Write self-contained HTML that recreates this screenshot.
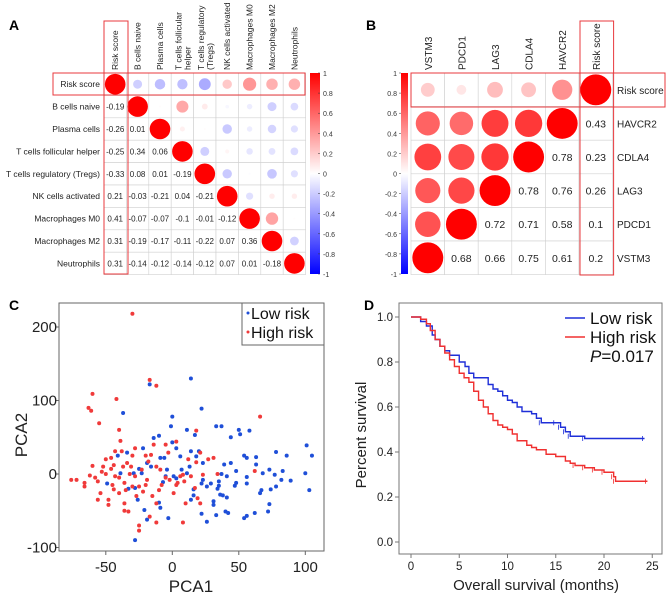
<!DOCTYPE html>
<html><head><meta charset="utf-8"><style>
html,body{margin:0;padding:0;background:#fff}
svg{display:block;font-family:"Liberation Sans",Arial,sans-serif}
</style></head><body>
<svg id="fig" width="672" height="606" viewBox="0 0 672 606">
<defs>
<linearGradient id="cbar" x1="0" y1="1" x2="0" y2="0">
<stop offset="0" stop-color="#0000ff"/><stop offset="0.5" stop-color="#ffffff"/><stop offset="1" stop-color="#ff0000"/>
</linearGradient>
</defs>
<g id="pA"></g>
<g id="pB"></g>
<g id="pC"></g>
<g id="pD"></g>
</svg>
<script>
// ---------- Panel A data ----------
const aLabels = ["Risk score","B cells naive","Plasma cells","T cells follicular helper","T cells regulatory (Tregs)","NK cells activated","Macrophages M0","Macrophages M2","Neutrophils"];
const aColLabels = [["Risk score"],["B cells naive"],["Plasma cells"],["T cells follicular","helper"],["T cells regulatory","(Tregs)"],["NK cells activated"],["Macrophages M0"],["Macrophages M2"],["Neutrophils"]];
const aLower = [
 [],
 [-0.19],
 [-0.26,0.01],
 [-0.25,0.34,0.06],
 [-0.33,0.08,0.01,-0.19],
 [0.21,-0.03,-0.21,0.04,-0.21],
 [0.41,-0.07,-0.07,-0.1,-0.01,-0.12],
 [0.31,-0.19,-0.17,-0.11,-0.22,0.07,0.36],
 [0.31,-0.14,-0.12,-0.14,-0.12,0.07,0.01,-0.18]
];
const cbTicks = [1,0.8,0.6,0.4,0.2,0,-0.2,-0.4,-0.6,-0.8,-1];
// ---------- Panel B data ----------
const bRows = ["Risk score","HAVCR2","CDLA4","LAG3","PDCD1","VSTM3"];
const bCols = ["VSTM3","PDCD1","LAG3","CDLA4","HAVCR2","Risk score"];
const bVars = ["Risk score","HAVCR2","CDLA4","LAG3","PDCD1","VSTM3"];
const bCorr = [
 [1,0.43,0.23,0.26,0.1,0.2],
 [0.43,1,0.78,0.76,0.58,0.61],
 [0.23,0.78,1,0.78,0.71,0.75],
 [0.26,0.76,0.78,1,0.72,0.66],
 [0.1,0.58,0.71,0.72,1,0.68],
 [0.2,0.61,0.75,0.66,0.68,1]
];
// ---------- Panel C data ----------
const cXTicks=[-50,0,50,100];
const cYTicks=[-100,0,100,200];
const highRisk=[[-30,218],[-60,109],[-63,90],[-61,86],[-42,102],[-55,69],[-40,60],[-17,128],[-12,120],[66,78],[3,44],[18,59],[-76,-8],[-72,-8],[-66,-12],[-66,-17],[-60,11],[-56,-10],[-56,-35],[-54,-26],[-48,-35],[-48,-42],[-52,10],[-50,20],[-46,22],[-46,7],[-43,-3],[-44,-21],[-40,-26],[-38,31],[-37,10],[-34,15],[-36,-12],[-36,-40],[-36,-50],[-33,-51],[-30,-17],[-28,-3],[-28,35],[-25,-17],[-25,-70],[-25,-77],[-23,6],[-22,-24],[-19,-8],[-18,17],[-17,-58],[-16,26],[-14,40],[-12,-66],[-12,-40],[-9,6],[-8,-15],[-5,40],[-3,29],[-2,-8],[1,-26],[3,-15],[6,-3],[8,-1],[9,-10],[8,-66],[10,-40],[12,20],[14,-3],[17,-19],[18,16],[21,29],[19,-33],[21,-40],[23,-1],[27,20],[31,22],[34,0],[62,4],[-43,31],[-39,45],[-31,10],[-58,-5],[-50,0],[-44,12],[-40,-5],[-35,-22],[-32,0],[-27,-30],[-20,-15],[-15,-30],[-10,-22],[-5,-5],[4,-12],[-45,-15],[-53,3],[-30,25],[-20,25],[-12,10],[-62,-2]];
const lowRisk=[[14,130],[-17,122],[-37,83],[0,78],[22,89],[-1,65],[11,60],[33,65],[37,65],[50,60],[58,59],[44,50],[51,54],[17,53],[-14,49],[-10,52],[0,43],[3,35],[-41,25],[-34,29],[-22,35],[14,31],[20,31],[18,24],[-9,22],[6,24],[23,15],[39,13],[44,15],[54,25],[56,22],[63,23],[78,30],[86,25],[101,39],[105,25],[63,13],[73,6],[83,4],[100,1],[103,-22],[89,-9],[82,-8],[78,-17],[74,-21],[77,-1],[68,1],[66,-26],[67,-22],[73,-41],[72,-51],[62,-53],[56,-57],[54,-60],[56,-4],[56,-13],[48,-12],[47,-16],[48,4],[41,-3],[37,0],[35,-10],[35,-16],[34,-20],[36,-28],[38,-29],[41,-32],[31,-37],[31,-42],[33,-56],[40,-51],[42,-53],[26,-65],[22,-54],[26,-17],[29,-13],[22,-13],[23,-8],[16,-21],[14,-35],[16,-29],[11,1],[13,10],[7,6],[1,-3],[3,-6],[-4,6],[-5,-3],[-7,-11],[-3,-60],[-10,-39],[-9,-46],[-16,10],[-19,15],[-23,1],[-25,7],[-29,1],[-28,-19],[-21,-49],[-19,-62],[-26,-35],[-39,1],[-49,-13],[-28,-90],[-33,-20],[-6,22]];
// ---------- Panel D data ----------
const dXTicks=[0,5,10,15,20,25];
const dYTicks=[0,0.2,0.4,0.6,0.8,1.0];
const lowT=[0,1,1.6,2.2,2.5,3,3.5,4,5,5.6,6,6.5,7,8,8.5,9,9.5,10,10.5,11,11.5,12,12.5,13,13.5,15,15.5,16,16.5,18,24.2];
const lowS=[1,0.98,0.96,0.92,0.9,0.87,0.85,0.83,0.8,0.78,0.75,0.73,0.73,0.7,0.68,0.67,0.65,0.63,0.62,0.6,0.58,0.58,0.57,0.55,0.53,0.53,0.51,0.49,0.47,0.46,0.46];
const highT=[0,1,1.6,2,2.5,3,3.5,4,4.5,5,5.5,6,6.5,7,7.5,8,8.5,9,9.5,10,10.5,11,12,12.5,13,14,15,16,16.5,17,18,19,20,21,21.2,24.5];
const highS=[1,0.99,0.97,0.94,0.9,0.87,0.84,0.81,0.78,0.75,0.73,0.71,0.67,0.63,0.6,0.57,0.54,0.52,0.51,0.5,0.48,0.45,0.43,0.42,0.41,0.39,0.38,0.36,0.35,0.34,0.33,0.32,0.31,0.29,0.27,0.27];

const NS="http://www.w3.org/2000/svg";
function mk(parent,tag,attrs,text){const e=document.createElementNS(NS,tag);for(const k in attrs)e.setAttribute(k,attrs[k]);if(text!==undefined)e.textContent=text;parent.appendChild(e);return e;}
function corrColor(r){const t=Math.min(1,Math.abs(r));if(r>=0){const v=Math.round(255*(1-t));return `rgb(255,${v},${v})`;}const v=Math.round(255*(1-t));return `rgb(${v},${v},255)`;}
function fmt(v){return String(v).replace(/^0\./,'0.').replace(/^-0\./,'-0.');}

// ===== Panel A =====
(function(){
 const g=document.getElementById('pA');
 const x0=104,y0=73,cs=22.4,n=aLabels.length;
 const t=mk(g,'text',{x:9,y:30,'font-size':14,'font-weight':'bold'},'A');
 
 const aVal=(i,j)=> i===j?1:(i>j?aLower[i][j]:aLower[j][i]);
 for(let i=0;i<n;i++){
  for(let j=0;j<n;j++){
   const cx=x0+j*cs,cy=y0+i*cs;
   const cell=mk(g,'rect',{x:cx,y:cy,width:cs,height:cs,fill:'#fff',stroke:'#d0d0d0','stroke-width':0.6});
   
   const v=aVal(i,j);
   if(j>=i){
    const c=mk(g,'circle',{cx:cx+cs/2,cy:cy+cs/2,r:(cs*0.46)*Math.sqrt(Math.abs(v)),fill:corrColor(v)});
    
   } else {
    const tx=mk(g,'text',{x:cx+cs/2,y:cy+cs/2+3,'font-size':8,'text-anchor':'middle',fill:'#222'},fmt(v));
    
   }
  }
  const rl=mk(g,'text',{x:100,y:y0+i*cs+cs/2+3,'font-size':8.5,'text-anchor':'end',fill:'#222'},aLabels[i]);
  
 }
 for(let j=0;j<n;j++){
  const lines=aColLabels[j];
  lines.forEach((ln,k)=>{
   const xx=x0+j*cs+cs/2+3+(lines.length>1?(k===0?-4:5):0);
   const cl=mk(g,'text',{x:xx,y:70,'font-size':8.5,transform:`rotate(-90 ${xx} 70)`,fill:'#222'},ln);
   
  });
 }
 const cb=mk(g,'rect',{x:310,y:73,width:10,height:201,fill:'url(#cbar)'});
 
 cbTicks.forEach((v,k)=>{const yy=73+(1-v)/2*201;
  const tl=mk(g,'text',{x:323,y:yy+3,'font-size':7,fill:'#333'},String(v));
  
  mk(g,'line',{x1:318,x2:320,y1:yy,y2:yy,stroke:'#333','stroke-width':0.5});});
 const hb=mk(g,'rect',{x:53,y:73,width:252,height:22,fill:'none',stroke:'#e8383c','stroke-width':1});
 
 const vb=mk(g,'rect',{x:104,y:21,width:24,height:253,fill:'none',stroke:'#e8383c','stroke-width':1});
 
})();

// ===== Panel B =====
(function(){
 const g=document.getElementById('pB');
 const x0=411,y0=73,cs=33.6,n=bRows.length;
 const t=mk(g,'text',{x:366,y:30,'font-size':14,'font-weight':'bold'},'B');
 
 for(let i=0;i<n;i++){
  for(let j=0;j<n;j++){
   const cx=x0+j*cs,cy=y0+i*cs;
   const cell=mk(g,'rect',{x:cx,y:cy,width:cs,height:cs,fill:'#fff',stroke:'#d0d0d0','stroke-width':0.6});
   
   const v=bCorr[bVars.indexOf(bRows[i])][bVars.indexOf(bCols[j])];
   if(j<=n-1-i){
    const c=mk(g,'circle',{cx:cx+cs/2,cy:cy+cs/2,r:(cs*0.46)*Math.sqrt(Math.abs(v)),fill:corrColor(v)});
    
   } else {
    const tx=mk(g,'text',{x:cx+cs/2,y:cy+cs/2+4,'font-size':10.5,'text-anchor':'middle',fill:'#222'},fmt(v));
    
   }
  }
  const rl=mk(g,'text',{x:617,y:y0+i*cs+cs/2+4,'font-size':10,fill:'#222'},bRows[i]);
  
 }
 for(let j=0;j<n;j++){
  const xx=x0+j*cs+cs/2+4;
  const cl=mk(g,'text',{x:xx,y:70,'font-size':10,transform:`rotate(-90 ${xx} 70)`,fill:'#222'},bCols[j]);
  
 }
 const cb=mk(g,'rect',{x:401,y:73,width:7,height:201,fill:'url(#cbar)'});
 
 cbTicks.forEach(v=>{const yy=73+(1-v)/2*201;
  const tl=mk(g,'text',{x:397,y:yy+3,'font-size':7,'text-anchor':'end',fill:'#333'},String(v));
  
  mk(g,'line',{x1:399,x2:401,y1:yy,y2:yy,stroke:'#333','stroke-width':0.5});});
 const hb=mk(g,'rect',{x:411,y:73,width:254,height:34,fill:'none',stroke:'#e8383c','stroke-width':1});
 
 const vb=mk(g,'rect',{x:580,y:21,width:33.6,height:254,fill:'none',stroke:'#e8383c','stroke-width':1});
 
})();

// ===== Panel C =====
(function(){
 const g=document.getElementById('pC');
 const X=v=>172.3+v*1.33, Y=v=>474-v*0.735;
 const t=mk(g,'text',{x:9,y:310,'font-size':14,'font-weight':'bold'},'C');
 
 const fr=mk(g,'rect',{x:59,y:303,width:265,height:248,fill:'#fff',stroke:'#666','stroke-width':1});
 
 cXTicks.forEach(v=>{mk(g,'line',{x1:X(v),x2:X(v),y1:551,y2:555,stroke:'#666'});
  const tl=mk(g,'text',{x:X(v),y:572,'font-size':15,'text-anchor':'middle',fill:'#222'},String(v));
  });
 cYTicks.forEach(v=>{mk(g,'line',{x1:55,x2:59,y1:Y(v),y2:Y(v),stroke:'#666'});
  const tl=mk(g,'text',{x:57,y:Y(v)+5,'font-size':15,'text-anchor':'end',fill:'#222'},String(v));
  });
 const xt=mk(g,'text',{x:191,y:592,'font-size':17,'text-anchor':'middle',fill:'#222'},'PCA1');
 
 const yt=mk(g,'text',{x:27,y:435,'font-size':17,'text-anchor':'middle',transform:'rotate(-90 27 435)',fill:'#222'},'PCA2');
 
 lowRisk.forEach(p=>{const c=mk(g,'circle',{cx:X(p[0]),cy:Y(p[1]),r:2,fill:'#1f4fd8'});
  });
 highRisk.forEach(p=>{const c=mk(g,'circle',{cx:X(p[0]),cy:Y(p[1]),r:2,fill:'#f03a3a'});
  });
 const lg=mk(g,'g',{});
 mk(lg,'rect',{x:242,y:303,width:82,height:42,fill:'#fff',stroke:'#666','stroke-width':1});
 mk(lg,'circle',{cx:248,cy:313,r:1.5,fill:'#1f4fd8'});
 const l1=mk(lg,'text',{x:251,y:319,'font-size':16,fill:'#111'},'Low risk');
 
 mk(lg,'circle',{cx:248,cy:332,r:1.5,fill:'#f03a3a'});
 const l2=mk(lg,'text',{x:251,y:338,'font-size':16,fill:'#111'},'High risk');
 
})();

// ===== Panel D =====
(function(){
 const g=document.getElementById('pD');
 const X=v=>411+v*9.65, Y=v=>542-v*225;
 const t=mk(g,'text',{x:364,y:310,'font-size':14,'font-weight':'bold'},'D');
 
 const fr=mk(g,'rect',{x:399,y:303,width:263,height:251,fill:'#fff',stroke:'#777','stroke-width':1});
 
 dXTicks.forEach(v=>{mk(g,'line',{x1:X(v),x2:X(v),y1:554,y2:558,stroke:'#777'});
  const tl=mk(g,'text',{x:X(v),y:570,'font-size':11.5,'text-anchor':'middle',fill:'#222'},String(v));
  });
 dYTicks.forEach(v=>{mk(g,'line',{x1:395,x2:399,y1:Y(v),y2:Y(v),stroke:'#777'});
  const tl=mk(g,'text',{x:393,y:Y(v)+4,'font-size':11.5,'text-anchor':'end',fill:'#222'},v.toFixed(1));
  });
 const xt=mk(g,'text',{x:536,y:590,'font-size':15,'text-anchor':'middle',fill:'#222'},'Overall survival (months)');
 
 const yt=mk(g,'text',{x:366,y:435,'font-size':15,'text-anchor':'middle',transform:'rotate(-90 366 435)',fill:'#222'},'Percent survival');
 
 function step(T,S,col,name){
  let d=`M${X(T[0])},${Y(S[0])}`;
  for(let k=1;k<T.length;k++){d+=`H${X(T[k])}V${Y(S[k])}`;}
  const p=mk(g,'path',{d:d,fill:'none',stroke:col,'stroke-width':1.4});
  
  for(let k=1;k<T.length;k++){const xx=X(T[k]);const yy=Y(S[k]);
   if(k>T.length-8) mk(g,'line',{x1:xx-2,x2:xx-2,y1:yy-2.5,y2:yy+2.5,stroke:col,'stroke-width':0.8});}
 }
 step(lowT,lowS,'#1f2fd8','low-risk-curve');
 step(highT,highS,'#f03030','high-risk-curve');
 const lg=mk(g,'g',{});
 mk(lg,'line',{x1:565,x2:585,y1:318,y2:318,stroke:'#1f2fd8','stroke-width':1.6});
 const l1=mk(lg,'text',{x:590,y:324,'font-size':17,fill:'#111'},'Low risk');
 
 mk(lg,'line',{x1:565,x2:585,y1:337,y2:337,stroke:'#f03030','stroke-width':1.6});
 const l2=mk(lg,'text',{x:590,y:343,'font-size':17,fill:'#111'},'High risk');
 
 const pv=mk(lg,'text',{x:590,y:362,'font-size':17,fill:'#111'});
 
 mk(pv,'tspan',{'font-style':'italic'},'P');mk(pv,'tspan',{},'=0.017');
})();
</script>
</body></html>
